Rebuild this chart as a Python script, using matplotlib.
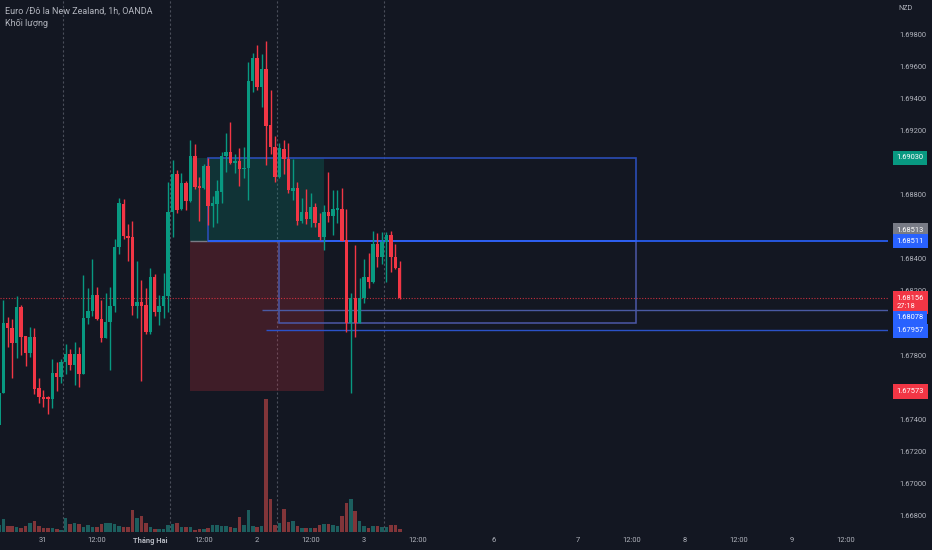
import matplotlib
matplotlib.use("Agg")
import matplotlib.pyplot as plt
from matplotlib.patches import Rectangle
from matplotlib.transforms import blended_transform_factory
import numpy as np

plt.rcParams['font.family'] = ['Roboto', 'DejaVu Sans']

BG = '#131722'
UP = '#089981'
DOWN = '#f23645'
TEXT = '#b2b5be'

# EURNZD, 1h nến
opens = [
    1.67364, 1.67563, 1.68000, 1.67969, 1.67875, 1.68100, 1.67919, 1.67813, 1.67913, 1.67595,
    1.67539, 1.67539, 1.67526, 1.67688, 1.67663, 1.67757, 1.67807, 1.67738, 1.67807, 1.67682,
    1.68031, 1.68075, 1.68175, 1.68025, 1.67906, 1.68006, 1.68106, 1.68474, 1.68742, 1.68543,
    1.68536, 1.68106, 1.68131, 1.68112, 1.67944, 1.68287, 1.68069, 1.68106, 1.68168, 1.68692,
    1.68929, 1.68711, 1.68873, 1.68761, 1.69041, 1.68854, 1.68842, 1.68979, 1.68730, 1.68742,
    1.68817, 1.69041, 1.69066, 1.68998, 1.69010, 1.68960, 1.68967, 1.69509, 1.69653, 1.69472,
    1.69584, 1.69235, 1.69098, 1.68910, 1.69085, 1.69023, 1.68823, 1.68842, 1.68636, 1.68692,
    1.68649, 1.68723, 1.68624, 1.68536, 1.68692, 1.68667, 1.68705, 1.68711, 1.68518, 1.68000,
    1.68156, 1.68000, 1.68156, 1.68287, 1.68256, 1.68493, 1.68412, 1.68505, 1.68549, 1.68412,
    1.68343,
]
highs = [
    1.67613, 1.68143, 1.68037, 1.68025, 1.68168, 1.68112, 1.67919, 1.67975, 1.67969, 1.67657,
    1.67582, 1.67545, 1.67776, 1.67757, 1.67776, 1.67869, 1.67838, 1.67882, 1.67850, 1.68299,
    1.68218, 1.68399, 1.68224, 1.68143, 1.68187, 1.68224, 1.68524, 1.68780, 1.68773, 1.68617,
    1.68636, 1.68387, 1.68268, 1.68218, 1.68343, 1.68306, 1.68175, 1.68312, 1.68879, 1.69016,
    1.68954, 1.68935, 1.68886, 1.69141, 1.69116, 1.68910, 1.68992, 1.69029, 1.68792, 1.68892,
    1.69066, 1.69185, 1.69253, 1.69054, 1.69091, 1.69098, 1.69628, 1.69684, 1.69734, 1.69677,
    1.69759, 1.69453, 1.69166, 1.69122, 1.69141, 1.69122, 1.69023, 1.68879, 1.68780, 1.68836,
    1.68811, 1.68748, 1.68686, 1.68736, 1.68942, 1.68829, 1.68829, 1.68842, 1.68711, 1.68187,
    1.68486, 1.68281, 1.68399, 1.68437, 1.68574, 1.68561, 1.68567, 1.68567, 1.68574, 1.68493,
    1.68387,
]
lows = [
    1.67289, 1.67563, 1.67850, 1.67657, 1.67782, 1.67800, 1.67732, 1.67788, 1.67557, 1.67501,
    1.67476, 1.67433, 1.67470, 1.67576, 1.67626, 1.67682, 1.67707, 1.67613, 1.67601, 1.67682,
    1.67994, 1.68044, 1.68019, 1.67882, 1.67906, 1.67707, 1.68069, 1.68430, 1.68524, 1.68387,
    1.68050, 1.68031, 1.67638, 1.67931, 1.67931, 1.68044, 1.67988, 1.68031, 1.68069, 1.68536,
    1.68686, 1.68705, 1.68705, 1.68755, 1.68836, 1.68636, 1.68836, 1.68611, 1.68599, 1.68624,
    1.68748, 1.68942, 1.68992, 1.68935, 1.68854, 1.68904, 1.68767, 1.69441, 1.69453, 1.69347,
    1.68985, 1.69054, 1.68879, 1.68904, 1.68929, 1.68811, 1.68767, 1.68611, 1.68624, 1.68617,
    1.68599, 1.68599, 1.68518, 1.68455, 1.68630, 1.68549, 1.68624, 1.68511, 1.67944, 1.67563,
    1.67913, 1.68000, 1.68125, 1.68218, 1.68249, 1.68349, 1.68368, 1.68256, 1.68318, 1.68337,
    1.68150,
]
closes = [
    1.67563, 1.68000, 1.67969, 1.67875, 1.68100, 1.67913, 1.67813, 1.67913, 1.67588, 1.67539,
    1.67526, 1.67526, 1.67688, 1.67663, 1.67757, 1.67807, 1.67738, 1.67807, 1.67682, 1.68031,
    1.68075, 1.68175, 1.68025, 1.67906, 1.68006, 1.68106, 1.68474, 1.68748, 1.68543, 1.68530,
    1.68106, 1.68131, 1.68106, 1.67944, 1.68287, 1.68069, 1.68106, 1.68168, 1.68692, 1.68929,
    1.68705, 1.68873, 1.68761, 1.69041, 1.68848, 1.68842, 1.68979, 1.68730, 1.68748, 1.68823,
    1.69041, 1.69066, 1.68998, 1.69010, 1.68960, 1.68967, 1.69509, 1.69653, 1.69472, 1.69584,
    1.69228, 1.69098, 1.68910, 1.69091, 1.69023, 1.68829, 1.68842, 1.68636, 1.68692, 1.68649,
    1.68723, 1.68624, 1.68536, 1.68692, 1.68667, 1.68711, 1.68717, 1.68511, 1.68000, 1.68156,
    1.68000, 1.68156, 1.68287, 1.68256, 1.68493, 1.68412, 1.68505, 1.68549, 1.68412, 1.68343,
    1.68156,
]
volumes = [
    70, 130, 57, 57, 47, 37, 63, 87, 107, 63,
    37, 43, 37, 27, 20, 143, 77, 87, 80, 50,
    70, 50, 53, 77, 93, 93, 83, 63, 53, 53,
    220, 137, 160, 90, 50, 30, 30, 30, 70, 77,
    90, 53, 53, 53, 23, 33, 33, 40, 73, 73,
    57, 63, 47, 40, 147, 73, 223, 63, 47, 57,
    1330, 330, 73, 90, 233, 103, 113, 57, 43, 43,
    43, 43, 70, 83, 77, 70, 57, 157, 293, 333,
    207, 113, 63, 43, 63, 63, 47, 53, 67, 73,
    30,
]

# trục thời gian (chỉ số nến)
time_ticks = [11, 23, 35, 47, 59, 71, 83, 95, 112, 131, 143, 155, 167, 179, 191]
time_labels = ['31', '12:00', 'Tháng Hai', '12:00', '2', '12:00', '3', '12:00',
               '6', '7', '12:00', '8', '12:00', '9', '12:00']
session_breaks = [15.5, 39.5, 63.5, 87.5]
x_range = (1.26, 200.6)

price_ticks = [1.668, 1.670, 1.672, 1.674, 1.676, 1.678, 1.680, 1.682,
               1.684, 1.686, 1.688, 1.690, 1.692, 1.694, 1.696, 1.698]
price_range = (1.666966, 1.700143)

# công cụ vị thế mua + các hình vẽ
entry = 1.68511
entry_tag = 1.68513
target = 1.69030
stop = 1.67573
box_low = 1.68000
level_a = 1.68078
level_b = 1.67957
pos_start, pos_end = 43.9, 74.0
box_start, box2_start, box_end = 48, 64, 144
level_a_start, level_b_start = 60, 61
countdown = '27:18'

idx = np.arange(1, len(opens) + 1)
o = np.array(opens)
c = np.array(closes)
up = c >= o
colors = np.where(up, UP, DOWN)

fig = plt.figure(figsize=(9.32, 5.5), dpi=100, facecolor=BG)
rect = [0, 18 / 550, 888 / 932, 532 / 550]
ax_vol = fig.add_axes(rect)
ax = fig.add_axes(rect, sharex=ax_vol)
ax_vol.set_facecolor(BG)
ax.patch.set_visible(False)

# khối lượng
vol_colors = np.where(up, '#26a69a', '#ef5350')
ax_vol.bar(idx, volumes, width=0.8, color=vol_colors, alpha=0.5, linewidth=0)
ax_vol.set_ylim(0, max(volumes) / 0.25)
ax_vol.axis('off')

# nến
ax.vlines(idx, lows, highs, colors=colors, linewidth=1.0, zorder=3)
body = np.maximum(np.abs(c - o), 0.00005)
ax.bar(idx, body, bottom=np.minimum(o, c), width=0.77, color=colors, linewidth=0, zorder=3)

# vùng chốt lời / cắt lỗ
ax.add_patch(Rectangle((pos_start, entry), pos_end - pos_start, target - entry,
                       facecolor=UP, alpha=0.22, linewidth=0, zorder=1))
ax.add_patch(Rectangle((pos_start, stop), pos_end - pos_start, entry - stop,
                       facecolor=DOWN, alpha=0.2, linewidth=0, zorder=1))
ax.hlines(entry, pos_start, pos_end, color='#787b86', linewidth=1, zorder=2)

ax.add_patch(Rectangle((box_start, entry), box_end - box_start, target - entry,
                       fill=False, edgecolor='#2a4cb5', linewidth=1.2, zorder=2))
ax.add_patch(Rectangle((box2_start, box_low), box_end - box2_start, entry - box_low,
                       fill=False, edgecolor='#4c58a8', linewidth=1.1, zorder=2))
ax.hlines(entry, box_start, x_range[1], color='#2962ff', linewidth=1.2, zorder=2)
ax.hlines(level_a, level_a_start, x_range[1], color='#4a5aa3', linewidth=1, zorder=2)
ax.hlines(level_b, level_b_start, x_range[1], color='#2b52c8', linewidth=1, zorder=2)

ax.axhline(closes[-1], color=DOWN, linewidth=0.8, linestyle=(0, (1, 1.5)), alpha=0.8, zorder=2)
for k in session_breaks:
    ax.axvline(k, color='#4a4e5a', linewidth=0.8, linestyle=(0, (2, 2)), zorder=0.5)

ax.set_xlim(*x_range)
ax.set_ylim(*price_range)
for spine in list(ax.spines.values()) + list(ax_vol.spines.values()):
    spine.set_visible(False)

ax.set_xticks(time_ticks)
ax.set_xticklabels(time_labels)
for lab, txt in zip(ax.get_xticklabels(), time_labels):
    if txt == 'Tháng Hai':
        lab.set_fontweight('bold')
ax.tick_params(axis='x', length=0, labelsize=5.4, labelcolor=TEXT, pad=3.5)

ax.yaxis.tick_right()
ax.set_yticks(price_ticks)
ax.set_yticklabels([f'{p:.5f}' for p in price_ticks])
ax.tick_params(axis='y', length=0, labelsize=5.4, labelcolor=TEXT, pad=8)

# nhãn giá trên trục
trans = blended_transform_factory(ax.transAxes, ax.transData)
tags = [
    (target, f'{target:.5f}', UP, 0),
    (entry_tag, f'{entry_tag:.5f}', '#787b86', 10),
    (entry, f'{entry:.5f}', '#2962ff', 0),
    (closes[-1], f'{closes[-1]:.5f}\n{countdown}', DOWN, -4.5),
    (level_a, f'{level_a:.5f}', '#2962ff', -7.5),
    (level_b, f'{level_b:.5f}', '#2962ff', -1),
    (stop, f'{stop:.5f}', DOWN, 0),
]
for price, txt, col, dy in tags:
    ax.annotate(txt, xy=(1.0, price), xycoords=trans, xytext=(8.5, dy),
                textcoords='offset pixels', ha='left', va='center', fontsize=5.4,
                color='white', linespacing=1.15, annotation_clip=False,
                bbox=dict(boxstyle='square,pad=0.5', fc=col, ec='none'), zorder=5)

ax.text(5 / 888, 1 - 11.5 / 532, 'Euro /Đô la New Zealand, 1h, OANDA', transform=ax.transAxes,
        fontsize=6.5, color=TEXT, ha='left', va='center')
ax.text(5 / 888, 1 - 23.5 / 532, 'Khối lượng', transform=ax.transAxes,
        fontsize=6.5, color=TEXT, ha='left', va='center')
fig.text(898 / 932, 1 - 8 / 550, 'NZD', fontsize=5.2, color=TEXT, ha='left', va='center')

fig.savefig('out.png', dpi=100, facecolor=BG)
